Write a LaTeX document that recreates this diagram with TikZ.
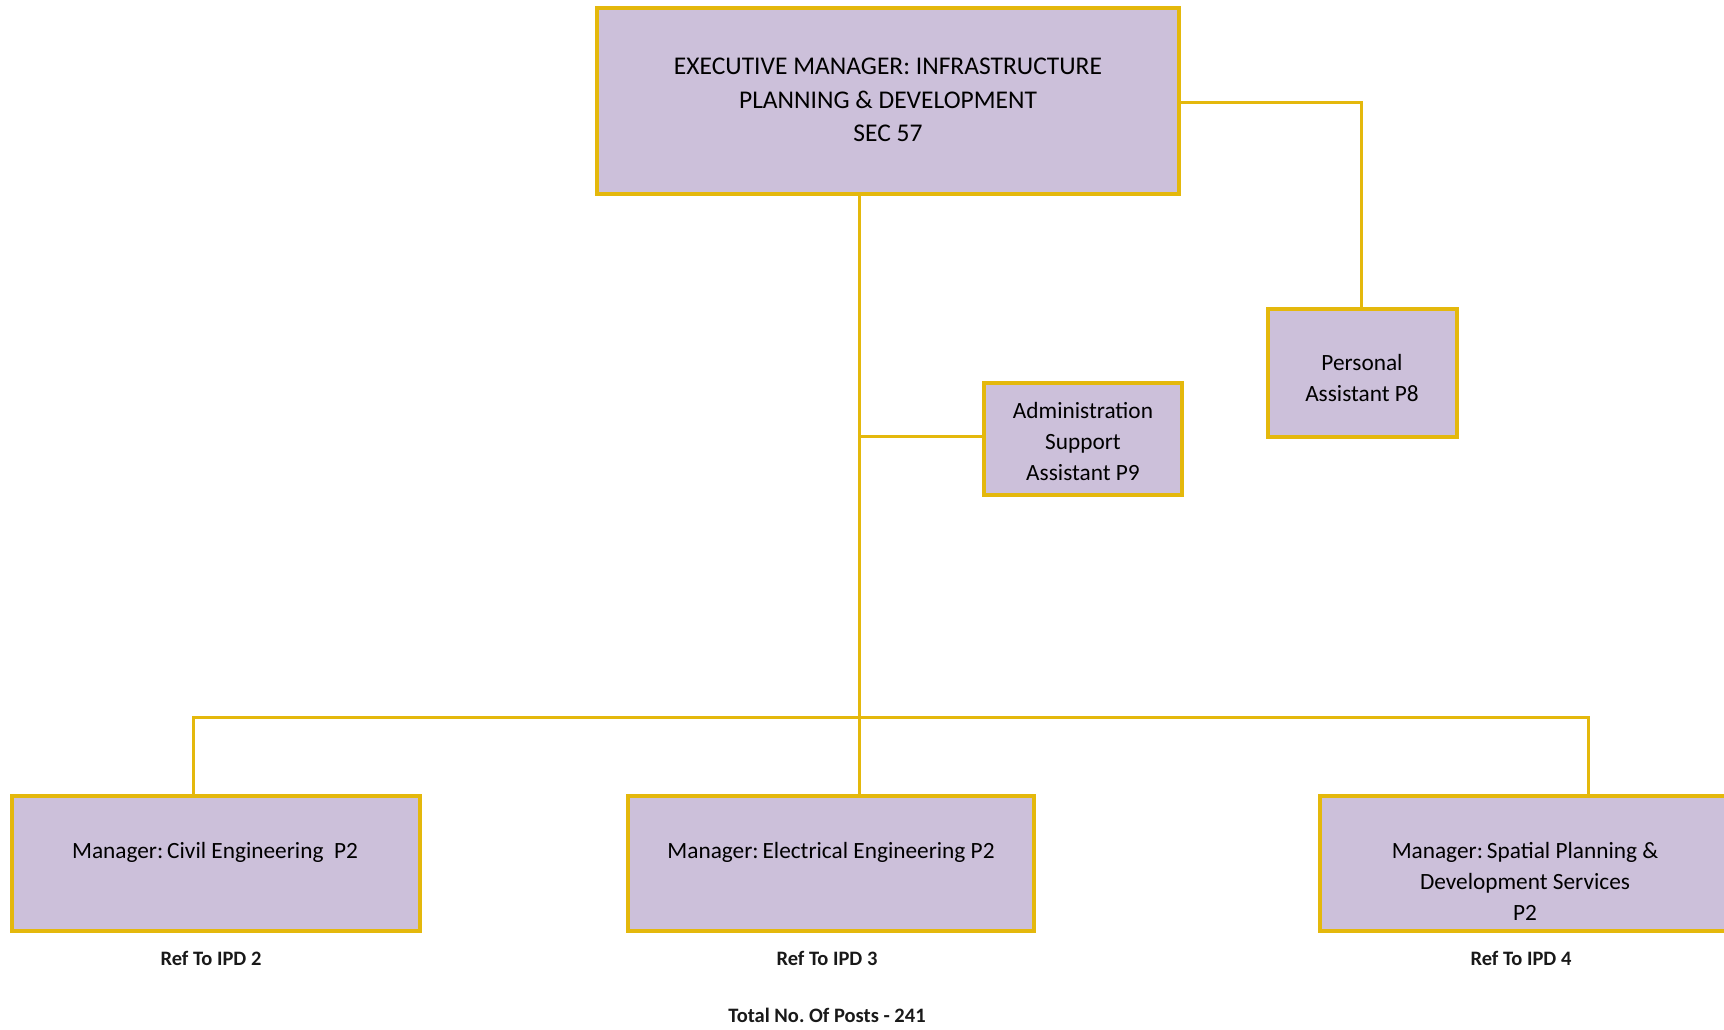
\documentclass[tikz,border=0pt]{standalone}
\usepackage{fontspec}
\setmainfont{Carlito}
\frenchspacing
\definecolor{boxfill}{RGB}{204,192,218}
\definecolor{boxline}{RGB}{228,184,12}
\begin{document}
\begin{tikzpicture}[x=1pt,y=-1pt,
  post/.style={draw=boxline,line width=3.2pt,fill=boxfill},
  link/.style={draw=boxline,line width=3pt},
  txt/.style={font=\fontsize{23.3}{31}\selectfont,align=center,text=black},
  headtxt/.style={font=\fontsize{25.5}{33.5}\selectfont,align=center,text=black},
  reflabel/.style={font=\bfseries\fontsize{20.5}{24}\selectfont,text=black!90}]
\useasboundingbox (0,0) rectangle (1724,1029);
\clip (0,0) rectangle (1724,1029);
% boxes
\draw[post] (597,8) rectangle (1179,194);
\draw[post] (1268,309) rectangle (1457,437);
\draw[post] (984,383) rectangle (1182,495);
\draw[post] (12,796) rectangle (420,931);
\draw[post] (628,796) rectangle (1034,931);
\draw[post] (1320,796) rectangle (1760,931);
% anchor points on the box edges and the junctions
\coordinate (exeR) at (1179,102);
\coordinate (exeB) at (859,194);
\coordinate (paT) at (1361,309);
\coordinate (admL) at (984,436);
\coordinate (civT) at (193,796);
\coordinate (eleT) at (859,796);
\coordinate (spaT) at (1588,796);
\coordinate (bus) at (859,717);
\coordinate (admJ) at (859,436);
% connectors
\draw[link] (exeR) -| (paT);
\draw[link] (exeB) -- (eleT);
\draw[link] (admJ) -- (admL);
\draw[link] (civT) |- (bus) -| (spaT);
% texts
\node[headtxt] (exetxt) at (888,100) {EXECUTIVE MANAGER: INFRASTRUCTURE\\PLANNING \& DEVELOPMENT\\SEC 57};
\node[txt] (patxt) at (1362,378) {Personal\\Assistant P8};
\node[txt] (admtxt) at (1083,441) {Administration\\Support\\Assistant P9};
\node[txt] (civtxt) at (215,852) {Manager:\,Civil Engineering\ \ P2};
\node[txt] (eletxt) at (831,852) {Manager:\,Electrical Engineering P2};
\node[txt,anchor=north] (spatxt) at (1525,839) {Manager:\,Spatial Planning \&\\Development Services\\P2};
\node[reflabel] (ref2) at (211,958) {Ref To IPD 2};
\node[reflabel] (ref3) at (827,958) {Ref To IPD 3};
\node[reflabel] (ref4) at (1521,958) {Ref To IPD 4};
\node[reflabel] (total) at (827,1015) {Total No. Of Posts - 241};
\end{tikzpicture}
\end{document}
